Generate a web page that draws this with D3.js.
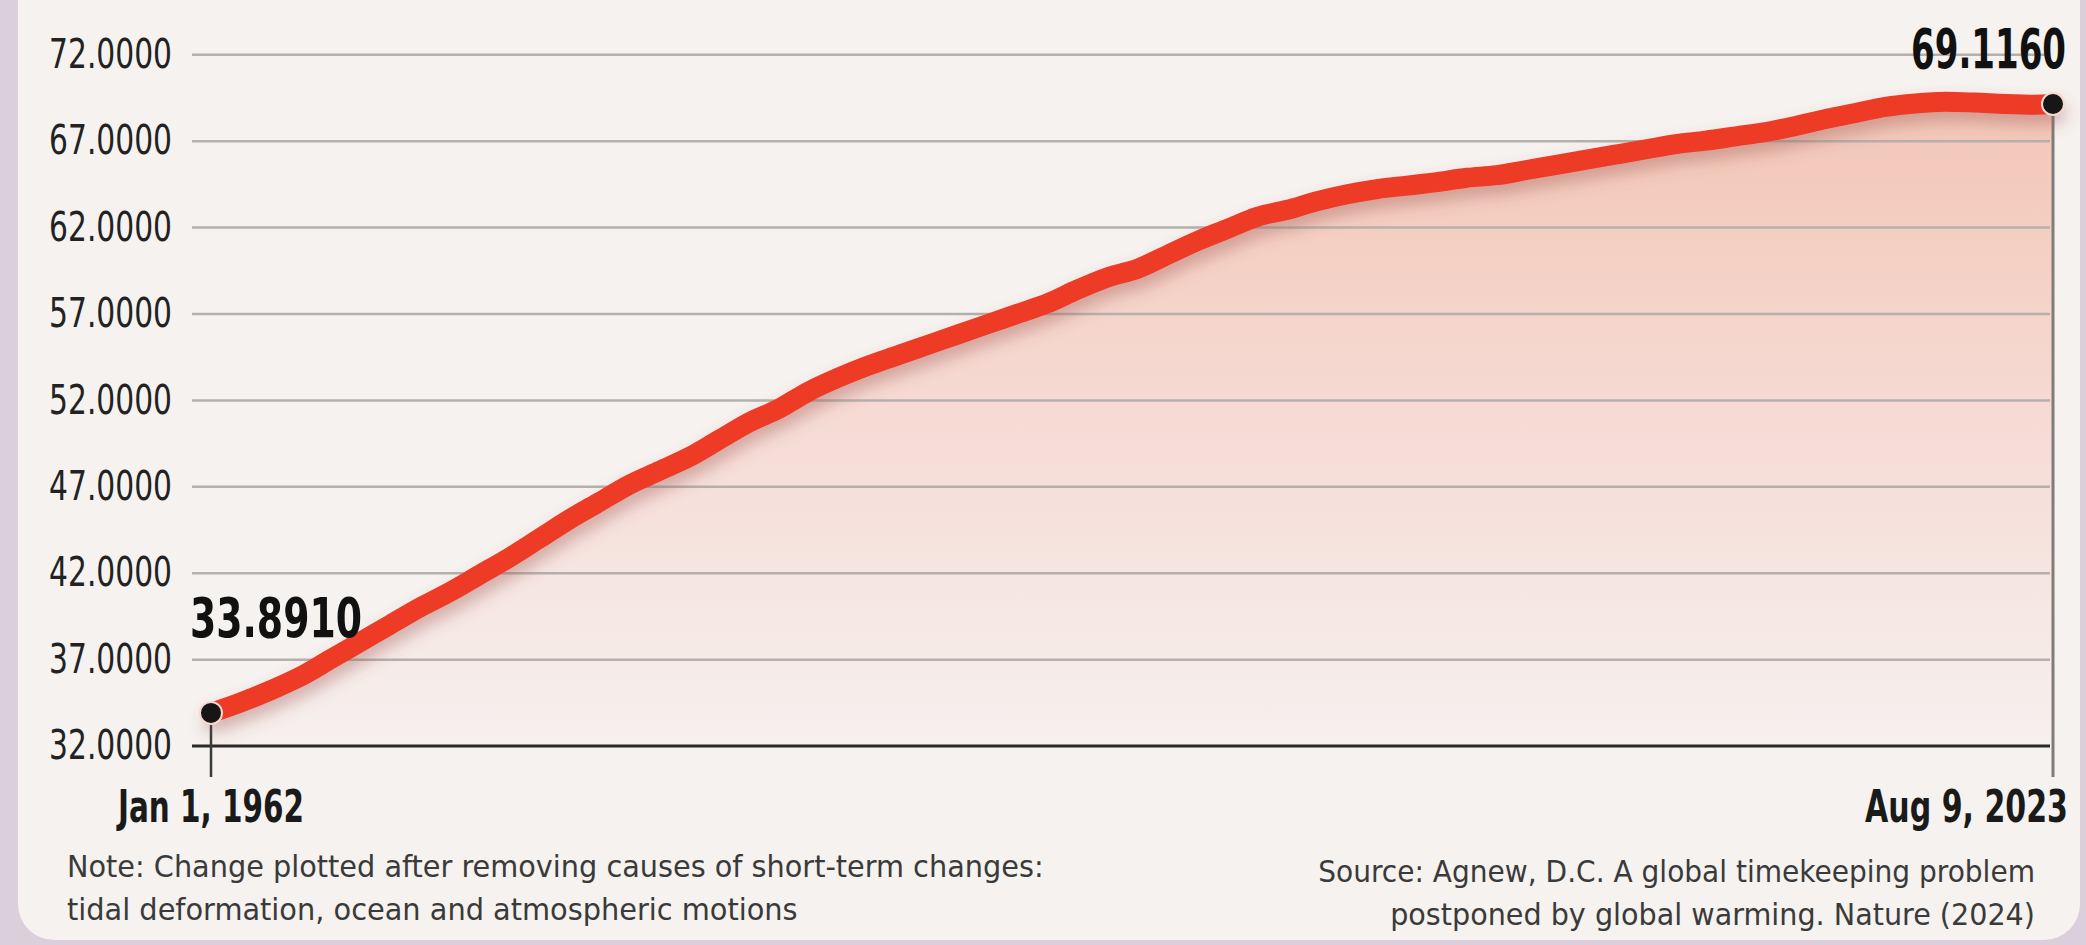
<!DOCTYPE html>
<html>
<head>
<meta charset="utf-8">
<script src="https://cdn.jsdelivr.net/npm/d3@7"></script>
<style>
  body { margin: 0; background: #dccfdc; overflow: hidden; }
  text { font-family: "Liberation Sans Narrow", "DejaVu Sans Condensed", "Roboto Condensed", "DejaVu Sans", sans-serif; }
</style>
</head>
<body>
<script>
// dates and values
const dates = ["1962-01-01","1963-01-01","1964-01-01","1965-01-01","1966-01-01","1967-01-01","1968-01-01",
  "1969-01-01","1970-01-01","1971-01-01","1972-01-01","1973-01-01","1974-01-01","1975-01-01","1976-01-01",
  "1977-01-01","1978-01-01","1979-01-01","1980-01-01","1981-01-01","1982-01-01","1983-01-01","1984-01-01",
  "1985-01-01","1986-01-01","1987-01-01","1988-01-01","1989-01-01","1990-01-01","1991-01-01","1992-01-01",
  "1993-01-01","1994-01-01","1995-01-01","1996-01-01","1997-01-01","1998-01-01","1999-01-01","2000-01-01",
  "2001-01-01","2002-01-01","2003-01-01","2004-01-01","2005-01-01","2006-01-01","2007-01-01","2008-01-01",
  "2009-01-01","2010-01-01","2011-01-01","2012-01-01","2013-01-01","2014-01-01","2015-01-01","2016-01-01",
  "2017-01-01","2018-01-01","2019-01-01","2020-01-01","2021-01-01","2022-01-01","2023-01-01","2023-08-09"]
const values = [33.891, 34.5, 35.2, 36.0, 37.0, 38.0, 39.0,
  40.0, 40.9, 41.9, 42.9, 44.0, 45.1, 46.1, 47.1,
  47.9, 48.7, 49.7, 50.7, 51.5, 52.5, 53.3, 54.0,
  54.6, 55.2, 55.8, 56.4, 57.0, 57.6, 58.4, 59.1,
  59.6, 60.4, 61.2, 61.9, 62.6, 63.0, 63.5, 63.9,
  64.2, 64.4, 64.6, 64.85, 65.0, 65.3, 65.6, 65.9,
  66.2, 66.5, 66.8, 67.0, 67.25, 67.5, 67.85, 68.25,
  68.6, 68.95, 69.15, 69.25, 69.2, 69.12, 69.08, 69.116]
const yTicks = [32, 37, 42, 47, 52, 57, 62, 67, 72]
const startLabel = "Jan 1, 1962"
const endLabel = "Aug 9, 2023"
const startValue = "33.8910"
const endValue = "69.1160"
const noteLines = ["Note: Change plotted after removing causes of short-term changes:",
  "tidal deformation, ocean and atmospheric motions"]
const sourceLines = ["Source: Agnew, D.C. A global timekeeping problem",
  "postponed by global warming. Nature (2024)"]

const svgWidth = 2086
const svgHeight = 945

const parse = d3.timeParse("%Y-%m-%d")
const data = dates.map((d, i) => ({ date: parse(d), value: values[i] }))

// the original uses a condensed face: scale each text horizontally to its width
function squeeze(sel, w) {
  sel.each(function (d, i) {
    const t = d3.select(this)
    const target = typeof w === "function" ? w(d, i) : w
    const s = target / this.getComputedTextLength()
    const x0 = +t.attr("x") || 0
    const y0 = +t.attr("y") || 0
    t.attr("x", 0).attr("y", 0)
      .attr("transform", `translate(${x0},${y0}) scale(${s},1)`)
  })
}

const svg = d3.select("body").append("svg")
  .attr("width", svgWidth)
  .attr("height", svgHeight)

const defs = svg.append("defs")
const grad = defs.append("linearGradient")
  .attr("id", "fillGrad")
  .attr("gradientUnits", "userSpaceOnUse")
  .attr("x1", 0).attr("x2", 0).attr("y1", 60).attr("y2", 745)
grad.append("stop").attr("offset", "0%").attr("stop-color", "#f2c3b2")
grad.append("stop").attr("offset", "55%").attr("stop-color", "#f6dcd6")
grad.append("stop").attr("offset", "100%").attr("stop-color", "#f6f0ee")

const shadow = defs.append("filter").attr("id", "shadow")
  .attr("x", "-5%").attr("y", "-20%").attr("width", "110%").attr("height", "140%")
shadow.append("feDropShadow")
  .attr("dx", 3).attr("dy", 9).attr("stdDeviation", 8)
  .attr("flood-color", "#9a5048").attr("flood-opacity", 0.4)

// panel
svg.append("rect")
  .attr("x", 18).attr("y", -60)
  .attr("width", 2062).attr("height", 1000)
  .attr("rx", 36)
  .attr("fill", "#f5f2ef")

const x = d3.scaleTime()
  .domain(d3.extent(data, d => d.date))
  .range([211, 2053])

const y = d3.scaleLinear()
  .domain([32, 72])
  .range([745.6, 54.2])

const area = d3.area()
  .x(d => x(d.date))
  .y0(y(32))
  .y1(d => y(d.value))
  .curve(d3.curveMonotoneX)

const line = d3.line()
  .x(d => x(d.date))
  .y(d => y(d.value))
  .curve(d3.curveMonotoneX)

svg.append("path")
  .datum(data)
  .attr("d", area)
  .attr("fill", "url(#fillGrad)")

// grid + y labels
const yAxis = d3.axisLeft(y)
  .tickValues(yTicks)
  .tickSize(-(2050 - 192))
  .tickPadding(20)
  .tickFormat(d3.format(".4f"))

const yG = svg.append("g")
  .attr("transform", "translate(192,0)")
  .call(yAxis)
yG.attr("font-family", null)
yG.select(".domain").remove()
yG.selectAll(".tick line")
  .attr("stroke", d => d === 32 ? "#2a2a2a" : "#b5b0ac")
  .attr("stroke-width", d => d === 32 ? 3 : 2.5)
yG.selectAll(".tick text")
  .attr("fill", "#222")
  .attr("font-size", 41)
  .call(squeeze, 123)

// end markers
const first = data[0]
const last = data[data.length - 1]

svg.append("line")
  .attr("x1", x(first.date)).attr("x2", x(first.date))
  .attr("y1", y(first.value)).attr("y2", 777)
  .attr("stroke", "#3a3a3a").attr("stroke-width", 2.5)

svg.append("line")
  .attr("x1", x(last.date)).attr("x2", x(last.date))
  .attr("y1", y(last.value)).attr("y2", 777)
  .attr("stroke", "#807c7a").attr("stroke-width", 3)

svg.append("path")
  .datum(data)
  .attr("d", line)
  .attr("fill", "none")
  .attr("stroke", "#ee3a26")
  .attr("stroke-width", 20)
  .attr("stroke-linecap", "round")
  .attr("filter", "url(#shadow)")

svg.selectAll(".dot")
  .data([first, last])
  .enter()
  .append("circle")
  .attr("cx", d => x(d.date))
  .attr("cy", d => y(d.value))
  .attr("r", 11)
  .attr("fill", "#161616")
  .attr("stroke", "#f7d8d0")
  .attr("stroke-width", 2)

// value labels
svg.append("text")
  .attr("x", 190).attr("y", 637)
  .attr("font-size", 55).attr("font-weight", "bold").attr("fill", "#111")
  .text(startValue)
  .call(squeeze, 172)

svg.append("text")
  .attr("x", 2066).attr("y", 68)
  .attr("text-anchor", "end")
  .attr("font-size", 55).attr("font-weight", "bold").attr("fill", "#111")
  .text(endValue)
  .call(squeeze, 155)

// date labels
svg.append("text")
  .attr("x", x(first.date)).attr("y", 822)
  .attr("text-anchor", "middle")
  .attr("font-size", 44).attr("font-weight", "bold").attr("fill", "#1a1a1a")
  .text(startLabel)
  .call(squeeze, 186)

svg.append("text")
  .attr("x", 2068).attr("y", 822)
  .attr("text-anchor", "end")
  .attr("font-size", 44).attr("font-weight", "bold").attr("fill", "#1a1a1a")
  .text(endLabel)
  .call(squeeze, 203)

// footnotes
const noteWidths = [977, 731]
svg.append("g").selectAll("text")
  .data(noteLines)
  .enter()
  .append("text")
  .attr("x", 67)
  .attr("y", (d, i) => 877 + i * 43)
  .attr("font-size", 31).attr("fill", "#3a3a3a")
  .text(d => d)
  .call(squeeze, (d, i) => noteWidths[i])

const sourceWidths = [717, 645]
svg.append("g").selectAll("text")
  .data(sourceLines)
  .enter()
  .append("text")
  .attr("x", 2035)
  .attr("y", (d, i) => 882 + i * 43)
  .attr("text-anchor", "end")
  .attr("font-size", 31).attr("fill", "#3a3a3a")
  .text(d => d)
  .call(squeeze, (d, i) => sourceWidths[i])
</script>
</body>
</html>
